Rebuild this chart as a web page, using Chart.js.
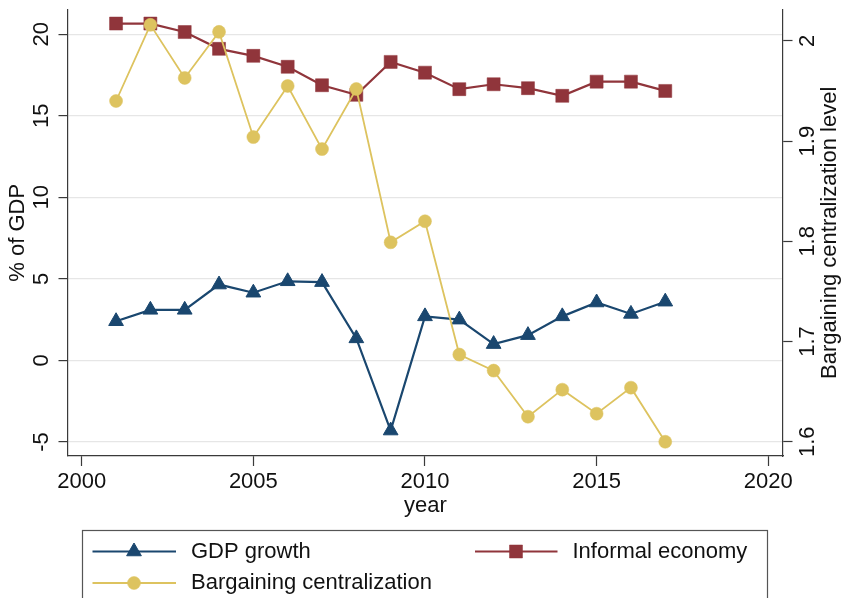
<!DOCTYPE html>
<html>
<head>
<meta charset="utf-8">
<script src="https://cdn.jsdelivr.net/npm/chart.js@4.4.1/dist/chart.umd.min.js"></script>
<style>
html,body{margin:0;padding:0;background:#ffffff;}
canvas{display:block;}
</style>
</head>
<body>
<canvas id="c" width="843" height="598" style="width:843px;height:598px"></canvas>
<script>
// ---------------- data ----------------
const years = [2001,2002,2003,2004,2005,2006,2007,2008,2009,2010,2011,2012,2013,2014,2015,2016,2017];
const gdpGrowth = [2.4,3.1,3.1,4.65,4.15,4.85,4.8,1.35,-4.3,2.7,2.5,1.0,1.55,2.7,3.55,2.85,3.6];
const informalEconomy = [20.65,20.65,20.13,19.1,18.67,18.0,16.87,16.28,18.3,17.64,16.63,16.93,16.69,16.22,17.09,17.09,16.52];
const bargainingCentralization = [1.940,2.016,1.963,2.009,1.904,1.955,1.892,1.952,1.799,1.820,1.687,1.671,1.625,1.652,1.628,1.654,1.600];

const xTickValues = [2000,2005,2010,2015,2020];
const leftTickValues = [-5,0,5,10,15,20];
const rightTickValues = [1.6,1.7,1.8,1.9,2];

const seriesNames = ['GDP growth','Informal economy','Bargaining centralization'];
const axisTitles = {x:'year', left:'% of GDP', right:'Bargaining centralization level'};

// ---------------- style ----------------
const FAMILY = "'Liberation Sans', Arial, Helvetica, sans-serif";
const FS = 22;
const TXT = '#111111';
const AXIS = '#3a3a3a';
const GRID = '#e6e6e6';
const NAVY = '#1a476f';
const MAROON = '#90353b';
const SAND = '#ddc35f';

Chart.defaults.font.family = FAMILY;
Chart.defaults.font.size = FS;
Chart.defaults.color = TXT;

function pts(vals){ return years.map((yr,i)=>({x:yr, y:vals[i]})); }
function fixedTicks(values){ return s => { s.ticks = values.map(v=>({value:v})); }; }

// custom overlay: right-axis title (reads upward, as in the reference) + legend box
const overlay = {
  id:'overlay',
  afterDraw(chart){
    const ctx = chart.ctx;
    const ca = chart.chartArea;
    const yR = chart.scales.yR;
    ctx.save();
    ctx.font = FS + 'px ' + FAMILY;
    ctx.fillStyle = TXT;
    ctx.textAlign = 'center';
    ctx.textBaseline = 'middle';
    ctx.translate(yR.right - 13, (ca.top + ca.bottom)/2);
    ctx.rotate(-Math.PI/2);
    ctx.fillText(axisTitles.right, 0, 0);
    ctx.restore();

    // legend
    ctx.save();
    ctx.strokeStyle = '#555555';
    ctx.lineWidth = 1.2;
    ctx.strokeRect(82.5, 530.5, 685, 100);
    const items = [
      {ds:0, x0:92.5, x1:176, mx:134, tx:191, y:551.5},
      {ds:1, x0:475, x1:557.5, mx:516, tx:572.5, y:551.5},
      {ds:2, x0:92.5, x1:176, mx:134, tx:191, y:583}
    ];
    items.forEach(it=>{
      const d = chart.data.datasets[it.ds];
      ctx.strokeStyle = d.borderColor;
      ctx.lineWidth = d.borderWidth;
      ctx.beginPath();
      ctx.moveTo(it.x0, it.y); ctx.lineTo(it.x1, it.y);
      ctx.stroke();
      ctx.fillStyle = d.pointBackgroundColor;
      ctx.strokeStyle = d.pointBorderColor;
      ctx.lineWidth = d.pointBorderWidth;
      Chart.helpers.drawPoint(ctx, {pointStyle:d.pointStyle, radius:d.pointRadius, rotation:0, borderWidth:d.pointBorderWidth}, it.mx, it.y);
      ctx.fillStyle = TXT;
      ctx.font = FS + 'px ' + FAMILY;
      ctx.textAlign = 'left';
      ctx.textBaseline = 'middle';
      ctx.fillText(d.label, it.tx, it.y);
    });
    ctx.restore();
  }
};

new Chart(document.getElementById('c'), {
  type:'line',
  data:{
    datasets:[
      {label:seriesNames[0], data:pts(gdpGrowth), yAxisID:'yL', order:3,
       borderColor:NAVY, backgroundColor:NAVY, borderWidth:2.2,
       pointStyle:'triangle', pointRadius:8.5, pointBackgroundColor:NAVY, pointBorderColor:NAVY, pointBorderWidth:1},
      {label:seriesNames[1], data:pts(informalEconomy), yAxisID:'yL', order:2,
       borderColor:MAROON, backgroundColor:MAROON, borderWidth:2.2,
       pointStyle:'rect', pointRadius:9.2, pointBackgroundColor:MAROON, pointBorderColor:MAROON, pointBorderWidth:0.5},
      {label:seriesNames[2], data:pts(bargainingCentralization), yAxisID:'yR', order:1,
       borderColor:SAND, backgroundColor:SAND, borderWidth:1.8,
       pointStyle:'circle', pointRadius:6.5, pointBackgroundColor:SAND, pointBorderColor:SAND, pointBorderWidth:0.5}
    ]
  },
  options:{
    responsive:false, animation:false, devicePixelRatio:1,
    layout:{padding:{left:0,right:0,top:8,bottom:78}},
    elements:{line:{tension:0, fill:false}, point:{hoverRadius:0}},
    plugins:{legend:{display:false}, tooltip:{enabled:false}},
    events:[],
    scales:{
      x:{type:'linear', position:'bottom', min:1999.6, max:2020.43,
        afterBuildTicks:fixedTicks(xTickValues),
        afterFit:s=>{s.height=64; s.paddingLeft=0; s.paddingRight=0; s.paddingTop=0; s.paddingBottom=0;},
        ticks:{callback:v=>String(v), autoSkip:false, maxRotation:0, minRotation:0, padding:3, color:TXT, font:{size:FS}},
        grid:{drawOnChartArea:false, drawTicks:true, tickLength:10, tickColor:AXIS, tickWidth:1.2},
        border:{display:true, color:AXIS, width:1.2},
        title:{display:true, text:axisTitles.x, color:TXT, font:{size:FS}, padding:{top:0,bottom:1}}
      },
      yL:{type:'linear', position:'left', min:-5.86, max:21.5,
        afterBuildTicks:fixedTicks(leftTickValues),
        afterFit:s=>{s.width=68; s.paddingTop=0; s.paddingBottom=0; s.paddingLeft=0; s.paddingRight=0;},
        ticks:{callback:v=>String(v), autoSkip:false, minRotation:90, maxRotation:90, crossAlign:'center', padding:4, color:TXT, font:{size:FS}},
        grid:{color:GRID, lineWidth:1.2, drawTicks:true, tickLength:9.5, tickColor:AXIS, tickWidth:1.2},
        border:{display:true, color:AXIS, width:1.2},
        title:{display:true, text:axisTitles.left, color:TXT, font:{size:FS}, padding:{top:5,bottom:0}}
      },
      yR:{type:'linear', position:'right', min:1.5858, max:2.0311,
        afterBuildTicks:fixedTicks(rightTickValues),
        afterFit:s=>{s.width=60; s.paddingTop=0; s.paddingBottom=0; s.paddingLeft=0; s.paddingRight=0;},
        ticks:{callback:v=>String(v), autoSkip:false, minRotation:90, maxRotation:90, crossAlign:'center', padding:0, color:TXT, font:{size:FS}},
        grid:{drawOnChartArea:false, drawTicks:true, tickLength:9.5, tickColor:AXIS, tickWidth:1.2},
        border:{display:true, color:AXIS, width:1.2},
        title:{display:false}
      }
    }
  },
  plugins:[overlay]
});
</script>
</body>
</html>
